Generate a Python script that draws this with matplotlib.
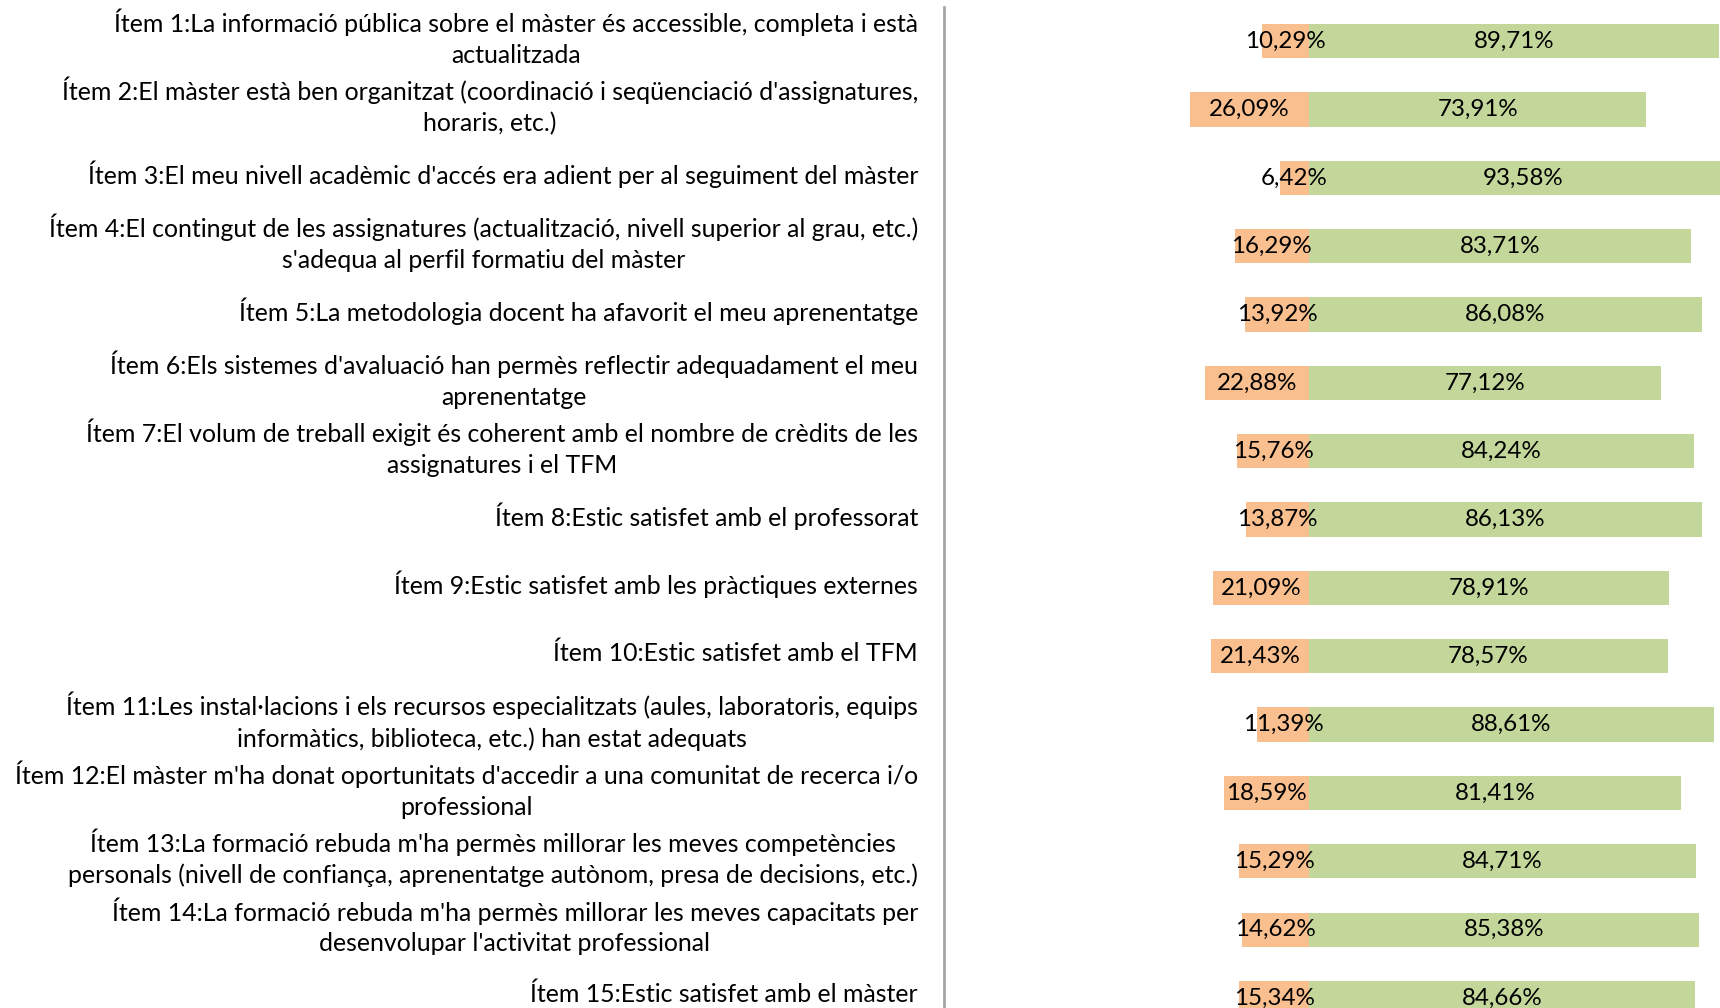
import matplotlib
matplotlib.use("Agg")
import matplotlib.pyplot as plt
import numpy as np

plt.rcParams['font.family'] = ['Lato', 'DejaVu Sans']

#%% data
items = [
    "Ítem 1:La informació pública sobre el màster és accessible, completa i està\nactualitzada",
    "Ítem 2:El màster està ben organitzat (coordinació i seqüenciació d'assignatures,\nhoraris, etc.)",
    "Ítem 3:El meu nivell acadèmic d'accés era adient per al seguiment del màster",
    "Ítem 4:El contingut de les assignatures (actualització, nivell superior al grau, etc.)\ns'adequa al perfil formatiu del màster",
    "Ítem 5:La metodologia docent ha afavorit el meu aprenentatge",
    "Ítem 6:Els sistemes d'avaluació han permès reflectir adequadament el meu\naprenentatge",
    "Ítem 7:El volum de treball exigit és coherent amb el nombre de crèdits de les\nassignatures i el TFM",
    "Ítem 8:Estic satisfet amb el professorat",
    "Ítem 9:Estic satisfet amb les pràctiques externes",
    "Ítem 10:Estic satisfet amb el TFM",
    "Ítem 11:Les instal·lacions i els recursos especialitzats (aules, laboratoris, equips\ninformàtics, biblioteca, etc.) han estat adequats",
    "Ítem 12:El màster m'ha donat oportunitats d'accedir a una comunitat de recerca i/o\nprofessional",
    "Ítem 13:La formació rebuda m'ha permès millorar les meves competències\npersonals (nivell de confiança, aprenentatge autònom, presa de decisions, etc.)",
    "Ítem 14:La formació rebuda m'ha permès millorar les meves capacitats per\ndesenvolupar l'activitat professional",
    "Ítem 15:Estic satisfet amb el màster",
]
desacord = [10.29, 26.09, 6.42, 16.29, 13.92, 22.88, 15.76, 13.87, 21.09, 21.43, 11.39, 18.59, 15.29, 14.62, 15.34]
acord = [89.71, 73.91, 93.58, 83.71, 86.08, 77.12, 84.24, 86.13, 78.91, 78.57, 88.61, 81.41, 84.71, 85.38, 84.66]

#%% plot
fig = plt.figure(figsize=(17.2, 10.08), dpi=100)
W, H = 1720, 1008
x_left, x_zero, px_per = 944, 1309, 4.565
y_top, y_first, step = 7, 43.5, 68.18
y_bot = y_first + 14.5 * step
ax = fig.add_axes([x_left / W, 1 - y_bot / H, (W - x_left) / W, (y_bot - y_top) / H])

y = np.arange(len(items))
neg = -np.array(desacord)
pos = np.array(acord)
ax.barh(y, neg, height=0.5, color='#FABF8F')
ax.barh(y, pos, height=0.5, color='#C4D79B')

ax.set_xlim(-(x_zero - x_left) / px_per, (W - x_zero) / px_per)
ax.set_ylim(14.5, -0.5)

for i in range(len(items)):
    ax.text(neg[i] / 2, y[i], f"{desacord[i]:.2f}%".replace('.', ','),
            ha='center', va='center', fontsize=17.4, color='black')
    ax.text(pos[i] / 2, y[i], f"{acord[i]:.2f}%".replace('.', ','),
            ha='center', va='center', fontsize=17.4, color='black')
    # category labels sit a touch higher than the bars
    ax.text(-(x_zero - 918) / px_per, y[i] - 0.05, items[i], ha='right', va='center',
            multialignment='center', fontsize=17.9, linespacing=1.4, color='black')

for s in ['top', 'right', 'bottom']:
    ax.spines[s].set_visible(False)
ax.spines['left'].set_color('#A6A6A6')
ax.spines['left'].set_linewidth(2)
ax.set_xticks([])
ax.set_yticks([])

fig.savefig('out.png', dpi=100)
